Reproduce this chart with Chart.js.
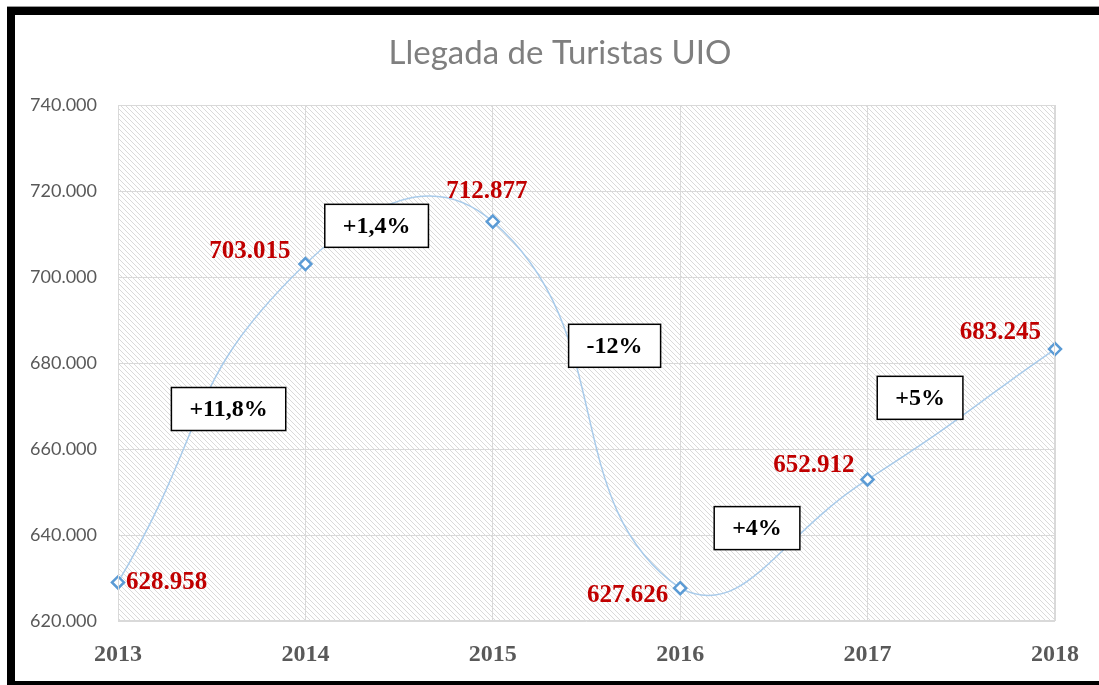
<!DOCTYPE html>
<html>
<head>
<meta charset="utf-8">
<script src="https://cdn.jsdelivr.net/npm/chart.js@4"></script>
<style>
  html, body { margin: 0; padding: 0; background: #fff; }
  #wrap { position: relative; width: 1099px; height: 685px; overflow: hidden; }
  #frame {
    position: absolute; left: 7px; top: 7px; width: 1200px; height: 666px;
    border-left: 8px solid #000; border-top: 8px solid #000; border-bottom: 6px solid #000;
    box-shadow: 0 -1px 0 #999;
  }
  canvas { position: absolute; left: 0; top: 0; }
</style>
</head>
<body>
<div id="wrap">
  <div id="frame"></div>
  <canvas id="chart" width="1099" height="685"></canvas>
</div>
<script>
// Llegada de turistas a Quito (UIO)
const years = ['2013', '2014', '2015', '2016', '2017', '2018'];
const arrivals = [628958, 703015, 712877, 627626, 652912, 683245];
const yTicks = { min: 620000, max: 740000, step: 20000 };

// cajas de variación porcentual
const changeLabels = ['+11,8%', '+1,4%', '-12%', '+4%', '+5%'];
const changeX = [0.59, 1.38, 2.65, 3.41, 4.28];       // posición en índice del eje x
const changeY = [669300, 711900, 684000, 641600, 671900];

function fmtMiles(v) {
    return String(Math.round(v)).replace(/\B(?=(\d{3})+(?!\d))/g, '.');
}

// fondo rayado
function hatchPattern(ctx) {
    const n = 5;
    const c = document.createElement('canvas');
    c.width = n; c.height = n;
    const g = c.getContext('2d');
    g.fillStyle = '#fff';
    g.fillRect(0, 0, n, n);
    g.strokeStyle = '#dadada';
    g.lineWidth = 1;
    g.beginPath();
    g.moveTo(-1, -1); g.lineTo(n + 1, n + 1);
    g.moveTo(-1, n - 1); g.lineTo(1, n + 1);
    g.moveTo(n - 1, -1); g.lineTo(n + 1, 1);
    g.stroke();
    return ctx.createPattern(c, 'repeat');
}

const decoPlugin = {
    id: 'deco',
    beforeDraw(chart) {
        const { ctx, chartArea: a } = chart;
        ctx.save();
        ctx.fillStyle = hatchPattern(ctx);
        ctx.fillRect(a.left, a.top, a.right - a.left, a.bottom - a.top);
        ctx.restore();
    },
    afterDraw(chart) {
        const { ctx, chartArea: a } = chart;
        const xs = chart.scales.x, ys = chart.scales.y;
        ctx.save();

        // título
        ctx.fillStyle = '#7f7f7f';
        ctx.font = '33px Lato, "Open Sans", sans-serif';
        ctx.textAlign = 'center';
        ctx.textBaseline = 'middle';
        ctx.fillText('Llegada de Turistas UIO', 560, 53);

        // borde del área
        ctx.strokeStyle = '#d9d9d9';
        ctx.lineWidth = 1;
        ctx.strokeRect(a.left + 0.5, a.top + 0.5, a.right - a.left - 1, a.bottom - a.top - 1);

        // etiquetas de datos
        const offs = [[8, 0, 'left'], [-15, -12, 'right'], [-6, -30, 'center'],
                      [-12, 7, 'right'], [-13, -14, 'right'], [-14, -16, 'right']];
        const meta = chart.getDatasetMeta(0);
        ctx.fillStyle = '#c00000';
        ctx.font = 'bold 25px "Liberation Serif", serif';
        meta.data.forEach((pt, i) => {
            ctx.textAlign = offs[i][2];
            ctx.fillText(fmtMiles(arrivals[i]), pt.x + offs[i][0], pt.y + offs[i][1]);
        });

        // cajas de variación
        ctx.font = 'bold 24px "Liberation Serif", serif';
        ctx.textAlign = 'center';
        changeLabels.forEach((t, i) => {
            const cx = xs.getPixelForValue(changeX[i]);
            const cy = ys.getPixelForValue(changeY[i]);
            const w = ctx.measureText(t).width + 36;
            const h = 43;
            ctx.fillStyle = '#fff';
            ctx.fillRect(cx - w / 2, cy - h / 2, w, h);
            ctx.strokeStyle = '#000';
            ctx.lineWidth = 1.5;
            ctx.strokeRect(cx - w / 2, cy - h / 2, w, h);
            ctx.fillStyle = '#000';
            ctx.fillText(t, cx, cy + 1);
        });
        ctx.restore();
    }
};

const chart = new Chart(document.getElementById('chart'), {
    type: 'line',
    data: {
        labels: years,
        datasets: [{
            label: 'Llegada de Turistas',
            data: arrivals,
            borderColor: '#a9cbea',
            borderWidth: 1.5,
            tension: 0.5,
            pointStyle: 'rectRot',
            pointRadius: 6,
            pointBorderWidth: 2.5,
            pointBorderColor: '#5b9bd5',
            pointBackgroundColor: '#fff'
        }]
    },
    options: {
        responsive: false,
        animation: false,
        layout: { padding: { top: 105, right: 44, bottom: 0, left: 0 } },
        plugins: {
            legend: { display: false },
            title: { display: false },
            tooltip: { enabled: false }
        },
        scales: {
            x: {
                offset: false,
                grid: { color: '#d9d9d9', drawTicks: false },
                border: { display: false },
                ticks: {
                    color: '#595959',
                    padding: 19,
                    maxRotation: 0,
                    font: { family: '"Liberation Serif", serif', size: 24, weight: 'bold' }
                },
                afterFit(s) { s.height = 64; }
            },
            y: {
                min: yTicks.min,
                max: yTicks.max,
                grid: { color: '#d9d9d9', drawTicks: false },
                border: { display: false },
                ticks: {
                    stepSize: yTicks.step,
                    color: '#595959',
                    padding: 21,
                    font: { family: 'Lato, "Open Sans", sans-serif', size: 18 },
                    callback: v => fmtMiles(v)
                },
                afterFit(s) { s.width = 118; }
            }
        }
    },
    plugins: [decoPlugin]
});
</script>
</body>
</html>
